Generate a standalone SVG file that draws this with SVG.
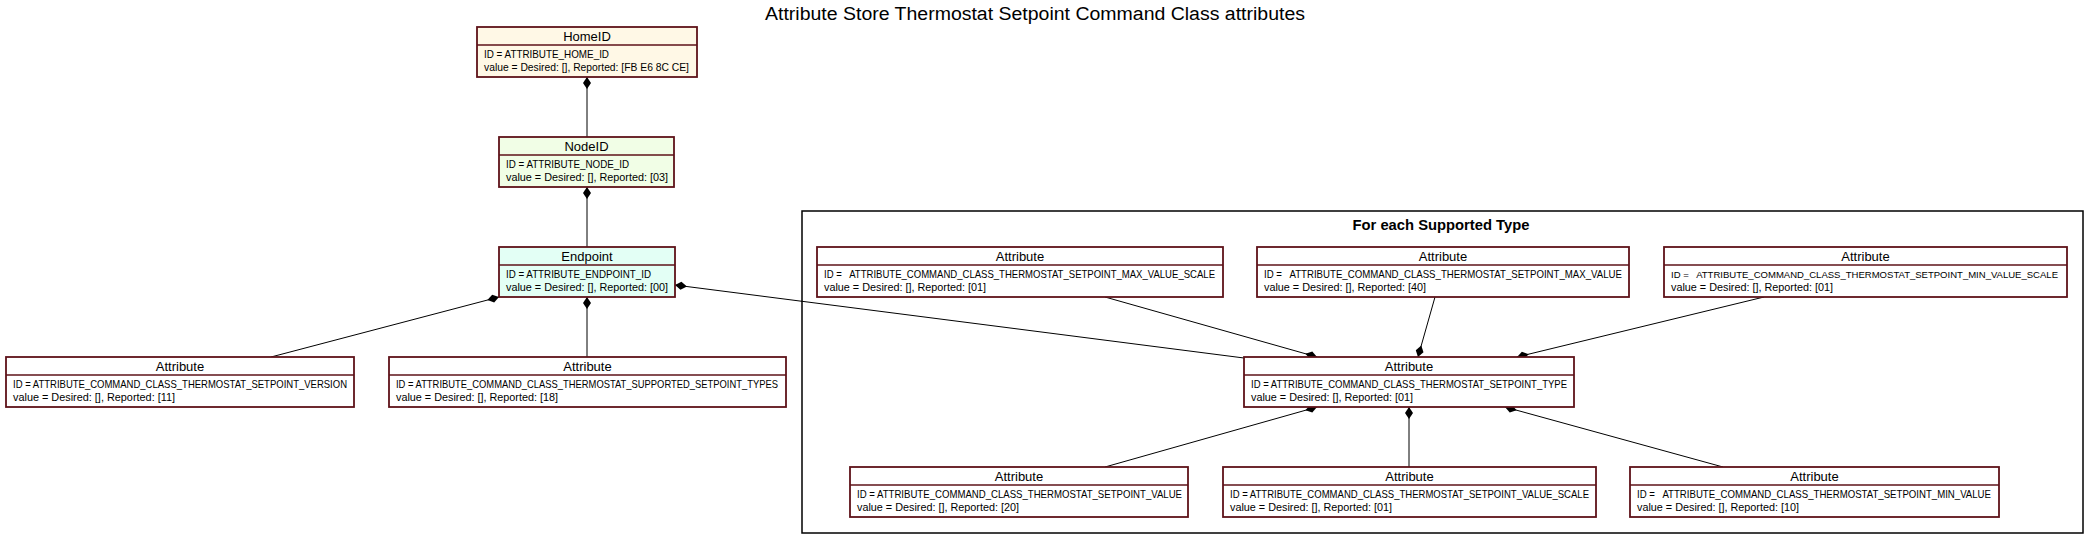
<svg xmlns="http://www.w3.org/2000/svg" width="2092" height="543" viewBox="0 0 2092 543">
<style>
text{font-family:"Liberation Sans",Arial,sans-serif;fill:#000}
.ttl{font-size:18px}
.clab{font-size:14.5px;font-weight:bold}
.nt{font-size:13px;text-anchor:middle}
.b{font-size:11.2px}
.bs{font-size:9.9px}
.box{stroke:#5e1219;stroke-width:1.8}
.sep{stroke:#5e1219;stroke-width:1.5}
.w{fill:#ffffff}
.home{fill:#fff8e6}
.node{fill:#f1fee6}
.ep{fill:#e3fff5}
.edge{stroke:#000;stroke-width:1;fill:none;marker-start:url(#d)}
</style>
<defs>
<marker id="d" markerUnits="userSpaceOnUse" viewBox="0 0 14 10" markerWidth="14" markerHeight="10" refX="0" refY="5" orient="auto">
<path d="M0,5 L6,1 L12,5 L6,9 Z" fill="#000"/>
</marker>
</defs>
<rect width="2092" height="543" fill="#ffffff"/>
<text class="ttl" x="1035" y="20" text-anchor="middle" textLength="540" lengthAdjust="spacingAndGlyphs">Attribute Store Thermostat Setpoint Command Class attributes</text>

<g id="cluster">
<rect x="802" y="211" width="1281" height="322" fill="none" stroke="#000" stroke-width="1.5"/>
<text class="clab" x="1441" y="230" text-anchor="middle" textLength="177" lengthAdjust="spacingAndGlyphs">For each Supported Type</text>
</g>

<g id="connectors">
<path class="edge" d="M587,77 L587,137"/>
<path class="edge" d="M587,187 L587,247"/>
<path class="edge" d="M499,297 L271,357"/>
<path class="edge" d="M587,297 L587,357"/>
<path class="edge" d="M675,285 L1244,358"/>
<path class="edge" d="M1317,357 L1105,297"/>
<path class="edge" d="M1418,357 L1435,297"/>
<path class="edge" d="M1517,357 L1764,297"/>
<path class="edge" d="M1317,407 L1105,467"/>
<path class="edge" d="M1409,407 L1409,467"/>
<path class="edge" d="M1505,407 L1723,467"/>
</g>

<g id="homeid">
<rect class="box home" x="477" y="27" width="220" height="50"/>
<line class="sep" x1="477" y1="45" x2="697" y2="45"/>
<text class="nt" x="587" y="41">HomeID</text>
<text class="b" x="484" y="58" textLength="125" lengthAdjust="spacingAndGlyphs">ID = ATTRIBUTE_HOME_ID</text>
<text class="b" x="484" y="71" textLength="205" lengthAdjust="spacingAndGlyphs">value = Desired: [], Reported: [FB E6 8C CE]</text>
</g>

<g id="nodeid">
<rect class="box node" x="499" y="137" width="175" height="50"/>
<line class="sep" x1="499" y1="155" x2="674" y2="155"/>
<text class="nt" x="586.5" y="151">NodeID</text>
<text class="b" x="506" y="168" textLength="123" lengthAdjust="spacingAndGlyphs">ID = ATTRIBUTE_NODE_ID</text>
<text class="b" x="506" y="181" textLength="162" lengthAdjust="spacingAndGlyphs">value = Desired: [], Reported: [03]</text>
</g>

<g id="endpoint">
<rect class="box ep" x="499" y="247" width="176" height="50"/>
<line class="sep" x1="499" y1="265" x2="675" y2="265"/>
<text class="nt" x="587" y="261">Endpoint</text>
<text class="b" x="506" y="278" textLength="145" lengthAdjust="spacingAndGlyphs">ID = ATTRIBUTE_ENDPOINT_ID</text>
<text class="b" x="506" y="291" textLength="162" lengthAdjust="spacingAndGlyphs">value = Desired: [], Reported: [00]</text>
</g>

<g id="attr-version">
<rect class="box w" x="6" y="357" width="348" height="50"/>
<line class="sep" x1="6" y1="375" x2="354" y2="375"/>
<text class="nt" x="180" y="371">Attribute</text>
<text class="b" x="13" y="388" textLength="334" lengthAdjust="spacingAndGlyphs">ID = ATTRIBUTE_COMMAND_CLASS_THERMOSTAT_SETPOINT_VERSION</text>
<text class="b" x="13" y="401" textLength="162" lengthAdjust="spacingAndGlyphs">value = Desired: [], Reported: [11]</text>
</g>

<g id="attr-supported-types">
<rect class="box w" x="389" y="357" width="397" height="50"/>
<line class="sep" x1="389" y1="375" x2="786" y2="375"/>
<text class="nt" x="587.5" y="371">Attribute</text>
<text class="b" x="396" y="388" textLength="382" lengthAdjust="spacingAndGlyphs">ID = ATTRIBUTE_COMMAND_CLASS_THERMOSTAT_SUPPORTED_SETPOINT_TYPES</text>
<text class="b" x="396" y="401" textLength="162" lengthAdjust="spacingAndGlyphs">value = Desired: [], Reported: [18]</text>
</g>

<g id="attr-max-value-scale">
<rect class="box w" x="817" y="247" width="406" height="50"/>
<line class="sep" x1="817" y1="265" x2="1223" y2="265"/>
<text class="nt" x="1020" y="261">Attribute</text>
<text class="b" x="824" y="278" xml:space="preserve" textLength="391" lengthAdjust="spacingAndGlyphs">ID =   ATTRIBUTE_COMMAND_CLASS_THERMOSTAT_SETPOINT_MAX_VALUE_SCALE</text>
<text class="b" x="824" y="291" textLength="162" lengthAdjust="spacingAndGlyphs">value = Desired: [], Reported: [01]</text>
</g>

<g id="attr-max-value">
<rect class="box w" x="1257" y="247" width="372" height="50"/>
<line class="sep" x1="1257" y1="265" x2="1629" y2="265"/>
<text class="nt" x="1443" y="261">Attribute</text>
<text class="b" x="1264" y="278" xml:space="preserve" textLength="358" lengthAdjust="spacingAndGlyphs">ID =   ATTRIBUTE_COMMAND_CLASS_THERMOSTAT_SETPOINT_MAX_VALUE</text>
<text class="b" x="1264" y="291" textLength="162" lengthAdjust="spacingAndGlyphs">value = Desired: [], Reported: [40]</text>
</g>

<g id="attr-min-value-scale">
<rect class="box w" x="1664" y="247" width="403" height="50"/>
<line class="sep" x1="1664" y1="265" x2="2067" y2="265"/>
<text class="nt" x="1865.5" y="261">Attribute</text>
<text class="bs" x="1671" y="278" xml:space="preserve" textLength="387" lengthAdjust="spacingAndGlyphs">ID =   ATTRIBUTE_COMMAND_CLASS_THERMOSTAT_SETPOINT_MIN_VALUE_SCALE</text>
<text class="b" x="1671" y="291" textLength="162" lengthAdjust="spacingAndGlyphs">value = Desired: [], Reported: [01]</text>
</g>

<g id="attr-setpoint-type">
<rect class="box w" x="1244" y="357" width="330" height="50"/>
<line class="sep" x1="1244" y1="375" x2="1574" y2="375"/>
<text class="nt" x="1409" y="371">Attribute</text>
<text class="b" x="1251" y="388" textLength="316" lengthAdjust="spacingAndGlyphs">ID = ATTRIBUTE_COMMAND_CLASS_THERMOSTAT_SETPOINT_TYPE</text>
<text class="b" x="1251" y="401" textLength="162" lengthAdjust="spacingAndGlyphs">value = Desired: [], Reported: [01]</text>
</g>

<g id="attr-value">
<rect class="box w" x="850" y="467" width="338" height="50"/>
<line class="sep" x1="850" y1="485" x2="1188" y2="485"/>
<text class="nt" x="1019" y="481">Attribute</text>
<text class="b" x="857" y="498" textLength="325" lengthAdjust="spacingAndGlyphs">ID = ATTRIBUTE_COMMAND_CLASS_THERMOSTAT_SETPOINT_VALUE</text>
<text class="b" x="857" y="511" textLength="162" lengthAdjust="spacingAndGlyphs">value = Desired: [], Reported: [20]</text>
</g>

<g id="attr-value-scale">
<rect class="box w" x="1223" y="467" width="373" height="50"/>
<line class="sep" x1="1223" y1="485" x2="1596" y2="485"/>
<text class="nt" x="1409.5" y="481">Attribute</text>
<text class="b" x="1230" y="498" textLength="359" lengthAdjust="spacingAndGlyphs">ID = ATTRIBUTE_COMMAND_CLASS_THERMOSTAT_SETPOINT_VALUE_SCALE</text>
<text class="b" x="1230" y="511" textLength="162" lengthAdjust="spacingAndGlyphs">value = Desired: [], Reported: [01]</text>
</g>

<g id="attr-min-value">
<rect class="box w" x="1630" y="467" width="369" height="50"/>
<line class="sep" x1="1630" y1="485" x2="1999" y2="485"/>
<text class="nt" x="1814.5" y="481">Attribute</text>
<text class="b" x="1637" y="498" xml:space="preserve" textLength="354" lengthAdjust="spacingAndGlyphs">ID =   ATTRIBUTE_COMMAND_CLASS_THERMOSTAT_SETPOINT_MIN_VALUE</text>
<text class="b" x="1637" y="511" textLength="162" lengthAdjust="spacingAndGlyphs">value = Desired: [], Reported: [10]</text>
</g>
</svg>
